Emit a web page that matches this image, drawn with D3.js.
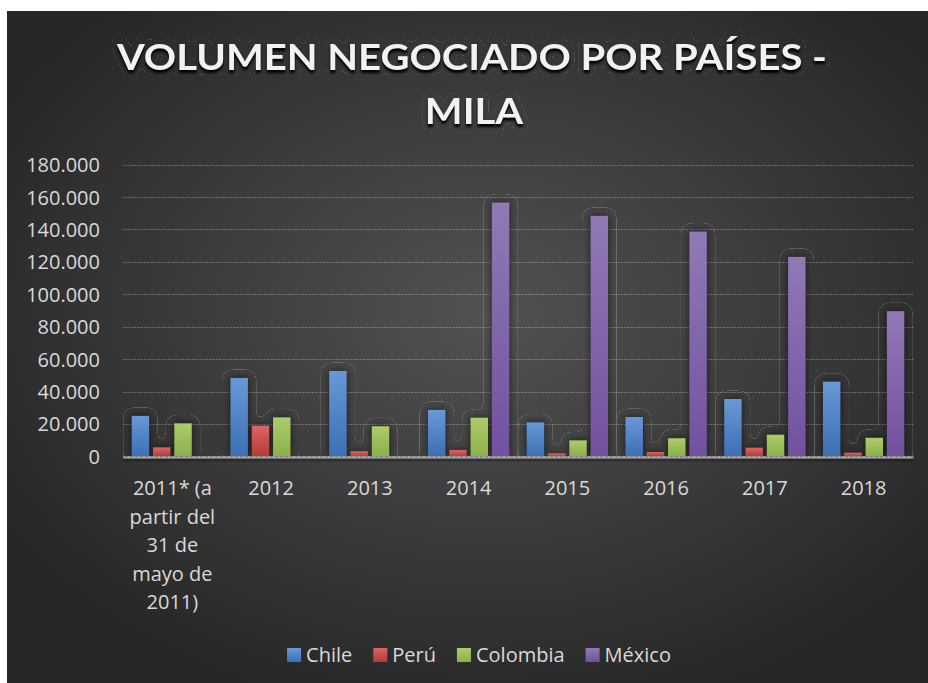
<!DOCTYPE html>
<html><head><meta charset="utf-8">
<script src="https://cdnjs.cloudflare.com/ajax/libs/d3/7.8.5/d3.min.js"></script>
<style>html,body{margin:0;padding:0;background:#fff;}svg{display:block;}</style>
</head><body>
<script>
const categories = [["2011* (a","partir del","31 de","mayo de","2011)"],["2012"],["2013"],["2014"],["2015"],["2016"],["2017"],["2018"]];
const categoryKeys = ["2011","2012","2013","2014","2015","2016","2017","2018"];
const seriesNames = ["Chile","Perú","Colombia","México"];
const chile    = [25000, 48400, 52700, 28700, 21000, 24300, 35400, 46100];
const peru     = [5600, 19000, 3200, 4000, 1900, 2700, 5400, 2300];
const colombia = [20400, 24100, 18600, 23900, 9900, 11200, 13400, 11500];
const mexico   = [null, null, null, 156600, 148400, 138700, 123100, 89600];
const yTicks = [0,20000,40000,60000,80000,100000,120000,140000,160000,180000];
const title1 = "VOLUMEN NEGOCIADO POR PAÍSES -";
const title2 = "MILA";

const seriesValues = [chile, peru, colombia, mexico];
const colors = [
  ["#6898d6","#3d6fb6"],
  ["#dc6563","#b63a38"],
  ["#abcc6b","#8bb049"],
  ["#9179b6","#72519f"]
];

const W = 928, H = 683;
const svg = d3.select("body").append("svg").attr("width",W).attr("height",H);
const defs = svg.append("defs");

const bg = defs.append("radialGradient").attr("id","bg").attr("cx","52%").attr("cy","45%").attr("r","62%");
bg.append("stop").attr("offset","0%").attr("stop-color","#525252");
bg.append("stop").attr("offset","100%").attr("stop-color","#262626");

colors.forEach((c,i)=>{
  const g = defs.append("linearGradient").attr("id","bar"+i).attr("x1",0).attr("y1",0).attr("x2",0).attr("y2",1);
  g.append("stop").attr("offset","0%").attr("stop-color",c[0]);
  g.append("stop").attr("offset","100%").attr("stop-color",c[1]);
});

function ringTable(){
  const v = new Array(41).fill(0); v[6]=1; return v.join(" ");
}
function makeGlow(id, dil, blur, ringOpacity, shBlur, shDy, shOp){
  const f = defs.append("filter").attr("id",id).attr("filterUnits","userSpaceOnUse")
    .attr("x",0).attr("y",0).attr("width",W).attr("height",H)
    .attr("color-interpolation-filters","sRGB");
  f.append("feMorphology").attr("in","SourceAlpha").attr("operator","dilate").attr("radius",dil).attr("result","dil");
  f.append("feGaussianBlur").attr("in","dil").attr("stdDeviation",blur).attr("result","bl");
  f.append("feComponentTransfer").attr("in","bl").attr("result","ring")
    .append("feFuncA").attr("type","table").attr("tableValues",ringTable());
  f.append("feFlood").attr("flood-color","#a8a8a8").attr("flood-opacity",ringOpacity).attr("result","fl");
  f.append("feComposite").attr("in","fl").attr("in2","ring").attr("operator","in").attr("result","ringc");
  f.append("feGaussianBlur").attr("in","SourceAlpha").attr("stdDeviation",shBlur).attr("result","sb");
  f.append("feOffset").attr("in","sb").attr("dy",shDy).attr("result","sbo");
  f.append("feFlood").attr("flood-color","#000").attr("flood-opacity",shOp).attr("result","fl2");
  f.append("feComposite").attr("in","fl2").attr("in2","sbo").attr("operator","in").attr("result","shadow");
  const m = f.append("feMerge");
  m.append("feMergeNode").attr("in","shadow");
  m.append("feMergeNode").attr("in","ringc");
  m.append("feMergeNode").attr("in","SourceGraphic");
}
makeGlow("glow", 4, 4, 0.4, 3.5, 0, 0.6);
makeGlow("tglow", 3, 2, 0.35, 1.2, 2.5, 0.95);

defs.append("clipPath").attr("id","plotclip").append("rect").attr("x",0).attr("y",0).attr("width",W).attr("height",456);

// background
svg.append("rect").attr("x",7).attr("y",11).attr("width",W-7).attr("height",H-11).attr("fill","url(#bg)");

const x0 = 123, x1 = 913;
const x = d3.scaleBand().domain(categoryKeys).range([x0,x1]).padding(0);
const bw = x.bandwidth();
const xs = d3.scaleBand().domain(seriesNames).range([bw*0.088, bw*(1-0.088)]).paddingInner(0.18).paddingOuter(0);
const y = d3.scaleLinear().domain([0,180000]).range([456.4,164.6]);

// gridlines
const grid = svg.append("g");
yTicks.filter(t=>t>0).forEach(t=>{
  grid.append("line").attr("x1",x0).attr("x2",x1).attr("y1",Math.round(y(t))+0.5).attr("y2",Math.round(y(t))+0.5)
    .attr("stroke","rgba(255,255,255,0.10)").attr("stroke-width",1);
  grid.append("line").attr("x1",x0).attr("x2",x1).attr("y1",Math.round(y(t))+0.5).attr("y2",Math.round(y(t))+0.5)
    .attr("stroke","rgba(255,255,255,0.28)").attr("stroke-width",1).attr("stroke-dasharray","1,2");
});

// y axis
const yAxis = d3.axisLeft(y).tickValues(yTicks).tickSize(0).tickPadding(0)
  .tickFormat(d=>d3.format(",")(d).replace(/,/g,"."));
const ya = svg.append("g").attr("transform","translate(100,0)").call(yAxis);
ya.select(".domain").remove();
ya.selectAll("text").attr("fill","#d9d9d9").attr("font-family","Open Sans").attr("font-size",20).attr("dy","0.35em");

// bars
const plot = svg.append("g").attr("clip-path","url(#plotclip)");
categoryKeys.forEach((k,ci)=>{
  const g = plot.append("g").attr("filter","url(#glow)");
  seriesNames.forEach((s,si)=>{
    const v = seriesValues[si][ci];
    if(v==null) return;
    g.append("rect")
      .attr("x", x(k)+xs(s)).attr("width", xs.bandwidth())
      .attr("y", y(v)).attr("height", y(0)-y(v))
      .attr("fill","url(#bar"+si+")");
  });
});

// x axis
const xAxis = d3.axisBottom(x).tickSize(0).tickFormat("");
const xa = svg.append("g").attr("transform","translate(0,457)").call(xAxis);
xa.select(".domain").attr("stroke","#9a9a9a").attr("stroke-width",2.5);
svg.append("line").attr("x1",x0).attr("x2",x1).attr("y1",457).attr("y2",457)
  .attr("stroke","#e0e0e0").attr("stroke-width",1).attr("stroke-dasharray","2,3").attr("opacity",0.6);
svg.append("rect").attr("x",x0).attr("y",458.5).attr("width",x1-x0).attr("height",3).attr("fill","#000").attr("opacity",0.25);

// category labels
const cl = svg.append("g");
categoryKeys.forEach((k,ci)=>{
  const t = cl.append("text").attr("x", x(k)+bw/2).attr("y",495).attr("text-anchor","middle")
    .attr("fill","#d9d9d9").attr("font-family","Open Sans").attr("font-size",20);
  categories[ci].forEach((line,li)=>{
    t.append("tspan").attr("x", x(k)+bw/2).attr("y",495+li*28.5).text(line);
  });
});

// title
const tg = svg.append("g").attr("filter","url(#tglow)");
const tt1 = tg.append("text").attr("x",472).attr("y",69.5).attr("text-anchor","middle")
  .attr("font-family","Lato").attr("font-weight",700).attr("font-size",36.5).attr("fill","#f2f2f2")
  .text(title1);
const w1 = tt1.node().getComputedTextLength();
tt1.attr("textLength",710).attr("lengthAdjust","spacingAndGlyphs");
const tt2 = tg.append("text").attr("x",474).attr("y",123.5).attr("text-anchor","middle")
  .attr("font-family","Lato").attr("font-weight",700).attr("font-size",36.5).attr("fill","#f2f2f2")
  .text(title2);
const w2 = tt2.node().getComputedTextLength();
tt2.attr("textLength", w2*710/w1).attr("lengthAdjust","spacingAndGlyphs");

// legend
const lg = svg.append("g");
let items = [];
seriesNames.forEach((s,i)=>{
  const it = lg.append("g");
  it.append("rect").attr("x",0).attr("y",648).attr("width",14).attr("height",14).attr("fill","url(#bar"+i+")");
  const tx = it.append("text").attr("x",19).attr("y",661.5).attr("fill","#d9d9d9")
    .attr("font-family","Open Sans").attr("font-size",20).text(s);
  const tw = tx.node().getComputedTextLength();
  items.push({it, w: 19+tw});
});
const gap = 21;
const total = d3.sum(items,d=>d.w) + gap*(items.length-1);
let px = 479 - total/2;
items.forEach(d=>{ d.it.attr("transform","translate("+px+",0)"); px += d.w + gap; });
</script>
</body></html>
